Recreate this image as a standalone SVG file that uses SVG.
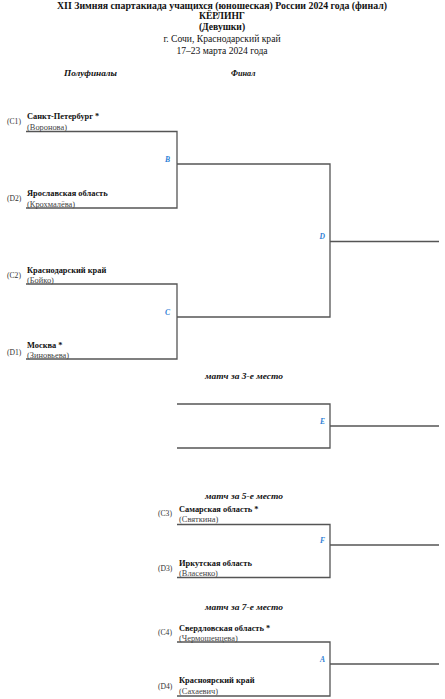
<svg xmlns="http://www.w3.org/2000/svg" width="445" height="699" viewBox="0 0 445 699">
<style>
.t{font-family:"Liberation Serif","DejaVu Serif",serif;fill:#111;text-anchor:middle}
.tb{font-weight:bold;font-size:9.6px}
.tr{font-size:9.6px}
.h{font-family:"Liberation Serif","DejaVu Serif",serif;font-weight:bold;font-style:italic;font-size:8.2px;fill:#111}
.n{font-family:"Liberation Serif","DejaVu Serif",serif;font-weight:bold;font-size:8.4px;fill:#111}
.s{font-family:"Liberation Serif","DejaVu Serif",serif;font-size:8.4px;fill:#444}
.c{font-family:"Liberation Serif","DejaVu Serif",serif;font-size:7.6px;fill:#333}
.m{font-family:"Liberation Serif","DejaVu Serif",serif;font-weight:bold;font-style:italic;font-size:7.6px;fill:#2f7fd6;text-anchor:end}
.ln{fill:none;stroke:#555;stroke-width:1.3}
</style>
<rect width="445" height="699" fill="#fff"/>
<g id="title">
<text class="t tb" x="222" y="8.5" textLength="330" lengthAdjust="spacingAndGlyphs">XII Зимняя спартакиада учащихся (юношеская) России 2024 года (финал)</text>
<text class="t tb" x="222" y="19">КЁРЛИНГ</text>
<text class="t tb" x="222" y="30">(Девушки)</text>
<text class="t tr" x="222" y="41.5">г. Сочи, Краснодарский край</text>
<text class="t tr" x="222" y="53.5">17–23 марта 2024 года</text>
</g>
<g id="headers">
<text class="h" x="64" y="76" textLength="53" lengthAdjust="spacingAndGlyphs">Полуфиналы</text>
<text class="h" x="231" y="76">Финал</text>
<text class="h" x="205" y="379" textLength="78" lengthAdjust="spacingAndGlyphs">матч за 3-е место</text>
<text class="h" x="205" y="499" textLength="78" lengthAdjust="spacingAndGlyphs">матч за 5-е место</text>
<text class="h" x="205" y="610" textLength="78" lengthAdjust="spacingAndGlyphs">матч за 7-е место</text>
</g>
<g id="connectors">
<path class="ln" d="M26 131.5H177V208H26M177 164H330V317H177M26 284H177V359H26M330 241.5H439"/>
<path class="ln" d="M177 404H330V448H177M330 426H439"/>
<path class="ln" d="M177 524.5H330V577.5H177M330 545H439"/>
<path class="ln" d="M177 642H330V696H177M330 664H439"/>
</g>
<g id="C1"><text class="c" x="7" y="124">(C1)</text><text class="n" x="27" y="119">Санкт-Петербург *</text><text class="s" x="27" y="130">(Воронова)</text></g>
<g id="D2"><text class="c" x="7" y="201">(D2)</text><text class="n" x="27" y="195.5">Ярославская область</text><text class="s" x="27" y="206.5">(Крохмалёва)</text></g>
<g id="C2"><text class="c" x="7" y="278">(C2)</text><text class="n" x="27" y="272.5">Краснодарский край</text><text class="s" x="27" y="283">(Бойко)</text></g>
<g id="D1"><text class="c" x="7" y="355">(D1)</text><text class="n" x="27" y="348">Москва *</text><text class="s" x="27" y="357.5">(Зиновьева)</text></g>
<g id="C3"><text class="c" x="158" y="516">(C3)</text><text class="n" x="179" y="511.5">Самарская область *</text><text class="s" x="179" y="522">(Святкина)</text></g>
<g id="D3"><text class="c" x="158" y="571">(D3)</text><text class="n" x="179" y="565.5">Иркутская область</text><text class="s" x="179" y="576">(Власенко)</text></g>
<g id="C4"><text class="c" x="158" y="635">(C4)</text><text class="n" x="179" y="630.5">Свердловская область *</text><text class="s" x="179" y="641">(Чермошенцева)</text></g>
<g id="D4"><text class="c" x="158" y="689">(D4)</text><text class="n" x="179" y="683">Красноярский край</text><text class="s" x="179" y="694">(Сахаевич)</text></g>
<g id="matches">
<text class="m" x="170" y="161.5">B</text>
<text class="m" x="325" y="239">D</text>
<text class="m" x="170" y="314.5">C</text>
<text class="m" x="325" y="423.5">E</text>
<text class="m" x="325" y="542.5">F</text>
<text class="m" x="325" y="661.5">A</text>
</g>
</svg>
